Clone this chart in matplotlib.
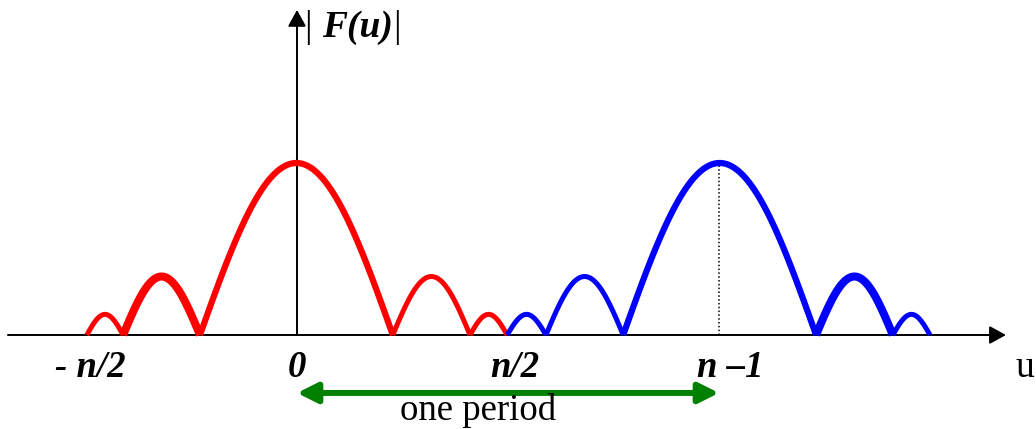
import matplotlib
matplotlib.use('Agg')

import matplotlib.pyplot as plt
from matplotlib.patches import FancyArrowPatch
import numpy as np

# Lobes of |F(u)| over one period, centred on u = 0 (period n-1 = 10, n/2 = 5)
red_zeros = [-4.98, -4.12, -2.30, 2.27, 4.10, 4.98]
red_peaks = [0.12, 0.34, 1.00, 0.34, 0.12]
red_widths = [3.6, 5.8, 4.5, 3.6, 3.6]

# Next period, centred on u = n-1
blue_zeros = [4.98, 5.90, 7.73, 12.30, 14.12, 15.00]
blue_peaks = [0.12, 0.34, 1.00, 0.34, 0.12]
blue_widths = [3.6, 3.6, 4.5, 5.8, 3.6]

tick_pos = [-4.9, 0.0, 5.17, 10.26]
tick_labels = ['- n/2', '0', 'n/2', 'n \u20131']
period_center = 10.0

fig = plt.figure(figsize=(10.36, 4.29), dpi=100)
ax = fig.add_axes([0, 0, 1, 1])
ax.set_xlim(-7.038, 17.512)
ax.set_ylim(-0.5465, 1.9477)
ax.axis('off')

serif = ['Liberation Serif', 'DejaVu Serif']


def draw_lobes(zeros, peaks, widths, color):
    for a, b, h, lw in zip(zeros[:-1], zeros[1:], peaks, widths):
        t = np.linspace(0, 1, 120)
        ax.plot(a + (b - a) * t, h * np.sin(np.pi * t), color=color, lw=lw,
                solid_capstyle='butt', zorder=3)


def arrow(p0, p1, style, color, lw, hl, hw):
    ax.add_patch(FancyArrowPatch(p0, p1, arrowstyle=f'{style},head_length={hl},head_width={hw}',
                                 color=color, lw=lw, shrinkA=0, shrinkB=0,
                                 mutation_scale=1, zorder=2))


# axes with arrow heads
arrow((-6.85, 0), (16.80, 0), '-|>', 'black', 1.4, 10, 5.5)
arrow((0, 0), (0, 1.89), '-|>', 'black', 1.4, 10, 5.5)

# dotted marker at the centre of the second period
ax.plot([period_center, period_center], [0, 1.0], color='black', lw=1.1,
        linestyle=(0, (1, 1.5)), zorder=1)

draw_lobes(red_zeros, red_peaks, red_widths, 'red')
draw_lobes(blue_zeros, blue_peaks, blue_widths, 'blue')

for pos, lab in zip(tick_pos, tick_labels):
    ax.text(pos, -0.19, lab, ha='center', va='center', fontsize=26.5,
            fontweight='bold', fontstyle='italic', family=serif)
ax.text(17.25, -0.19, 'u', ha='center', va='center', fontsize=27, family=serif)

# |F(u)| label at the top of the vertical axis
ax.text(0.26, 1.79, '|', ha='center', va='center', fontsize=27, family=serif)
ax.text(1.43, 1.79, 'F(u)', ha='center', va='center', fontsize=27,
        fontweight='bold', fontstyle='italic', family=serif)
ax.text(2.37, 1.79, '|', ha='center', va='center', fontsize=27, family=serif)

# one period span
arrow((0, -0.337), (period_center, -0.337), '<|-|>', 'green', 4.3, 12, 6)
ax.text(4.29, -0.44, 'one period', ha='center', va='center', fontsize=26.5, family=serif)

fig.savefig('out.png', dpi=100)
